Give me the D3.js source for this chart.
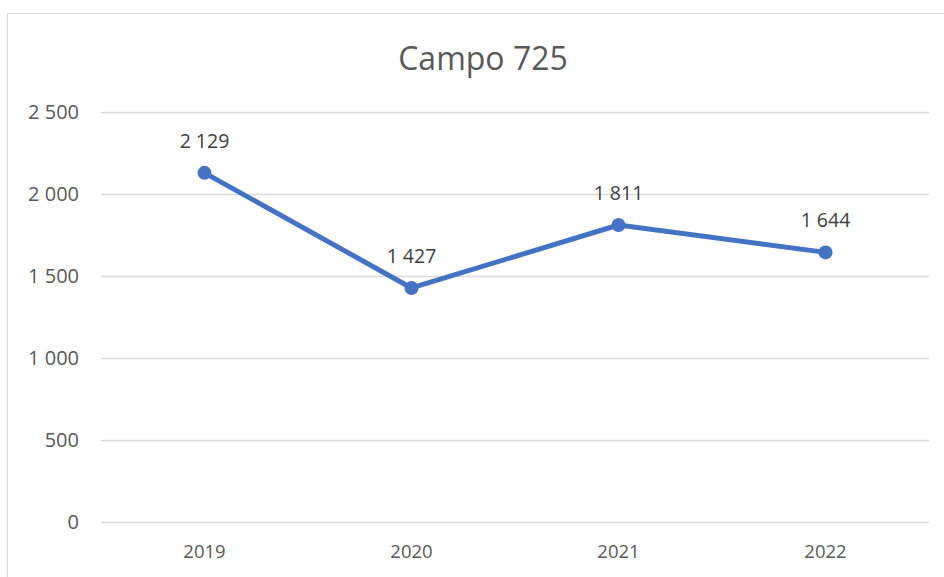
<!DOCTYPE html>
<html>
<head>
<meta charset="utf-8">
<script src="https://cdn.jsdelivr.net/npm/d3@7"></script>
<style>
  body { margin: 0; padding: 0; overflow: hidden; background: #fff; }
</style>
</head>
<body>
<script>
const years = ["2019", "2020", "2021", "2022"];
const values = [2129, 1427, 1811, 1644];
const yTicks = [0, 500, 1000, 1500, 2000, 2500];
const titleText = "Campo 725";

const fontFam = "'Open Sans', sans-serif";
const textCol = "#595959";
const lineCol = "#4472c4";

const svg = d3.select("body").append("svg").attr("width", 944).attr("height", 577);

// chart frame (only left/top visible)
svg.append("rect").attr("x", 7.5).attr("y", 13.5).attr("width", 1000).attr("height", 1000)
  .attr("fill", "none").attr("stroke", "#d9d9d9").attr("stroke-width", 1);

const fmt = d => d3.format(",")(d).replace(/,/g, " ");

const x = d3.scaleBand().domain(years).range([101, 929]);
const y = d3.scaleLinear().domain([0, 2500]).range([522, 112]);

// gridlines
svg.append("g").selectAll("line").data(yTicks).join("line")
  .attr("x1", 101).attr("x2", 929)
  .attr("y1", d => y(d) + 0.5).attr("y2", d => y(d) + 0.5)
  .attr("stroke", "#d9d9d9").attr("stroke-width", 1.3);

// y axis labels
const yAxis = svg.append("g").attr("transform", "translate(79,0)")
  .call(d3.axisLeft(y).tickValues(yTicks).tickFormat(fmt).tickSize(0).tickPadding(0));
yAxis.select(".domain").remove();
yAxis.selectAll("text").attr("fill", textCol).style("font-family", fontFam).style("font-size", "20px");

// x axis labels
const xAxis = svg.append("g").attr("transform", "translate(0,545)")
  .call(d3.axisBottom(x).tickSize(0).tickPadding(0));
xAxis.select(".domain").remove();
xAxis.selectAll("text").attr("fill", textCol).style("font-family", fontFam).style("font-size", "18.5px");

// title
svg.append("text").attr("x", 483).attr("y", 70).attr("text-anchor", "middle")
  .attr("fill", textCol).style("font-family", fontFam).style("font-size", "32px")
  .text(titleText);

const pts = years.map((d, i) => [x(d) + x.bandwidth() / 2, y(values[i])]);

svg.append("path").datum(pts)
  .attr("d", d3.line())
  .attr("fill", "none").attr("stroke", lineCol).attr("stroke-width", 5)
  .attr("stroke-linejoin", "round");

svg.append("g").selectAll("circle").data(pts).join("circle")
  .attr("cx", d => d[0]).attr("cy", d => d[1]).attr("r", 7)
  .attr("fill", lineCol);

svg.append("g").selectAll("text").data(values).join("text")
  .attr("x", (d, i) => pts[i][0]).attr("y", (d, i) => pts[i][1] - 25)
  .attr("text-anchor", "middle")
  .attr("fill", "#404040").style("font-family", fontFam).style("font-size", "19.5px")
  .text(d => fmt(d));
</script>
</body>
</html>
